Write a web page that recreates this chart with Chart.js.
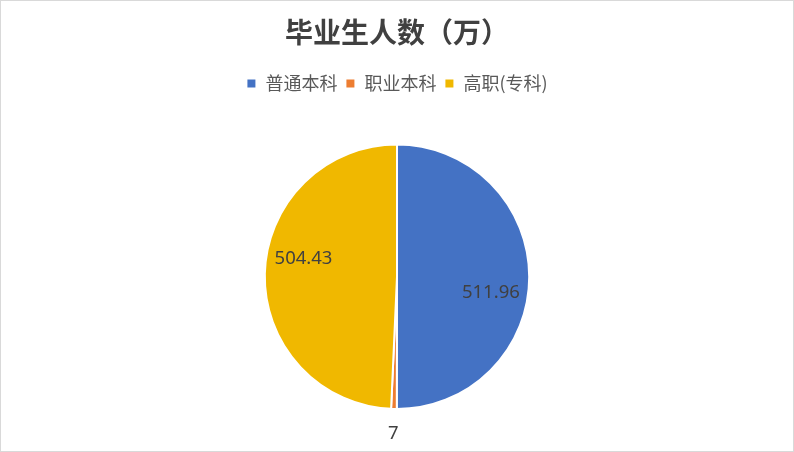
<!DOCTYPE html>
<html>
<head>
<meta charset="utf-8">
<script src="https://cdn.jsdelivr.net/npm/chart.js@4/dist/chart.umd.min.js"></script>
<style>
  html, body { margin: 0; padding: 0; background: #fff; }
  #wrap { width: 794px; height: 452px; box-sizing: border-box; border: 1px solid #D9D9D9; position: relative; }
</style>
</head>
<body>
<div id="wrap"><canvas id="myChart"></canvas></div>
<script>
const categories = ['普通本科', '职业本科', '高职(专科)'];
const graduates = [511.96, 7, 504.43];
const colors = ['#4472C4', '#ED7D31', '#F0B800'];

const FONT = '"Noto Sans CJK SC", "Noto Sans", sans-serif';

// extra room under the legend, before the pie starts
const legendGap = {
  id: 'legendGap',
  beforeInit(chart) {
    const fit = chart.legend.fit;
    chart.legend.fit = function () {
      fit.bind(chart.legend)();
      this.height += 41;
    };
  }
};

// value labels, inside the slice or just outside when the slice is thin
const sliceLabels = {
  id: 'sliceLabels',
  afterDatasetsDraw(chart) {
    const ctx = chart.ctx;
    const data = chart.data.datasets[0].data;
    const total = data.reduce((a, b) => a + b, 0);
    const meta = chart.getDatasetMeta(0);
    ctx.save();
    ctx.font = '18.5px "Noto Sans", sans-serif';
    ctx.fillStyle = '#404040';
    ctx.textAlign = 'center';
    ctx.textBaseline = 'middle';
    meta.data.forEach((arc, i) => {
      const p = arc.getProps(['x', 'y', 'startAngle', 'endAngle', 'outerRadius'], true);
      let mid = (p.startAngle + p.endAngle) / 2;
      let r;
      if (data[i] / total < 0.02) {
        r = p.outerRadius * 1.19;
      } else {
        r = p.outerRadius * 0.72;
        mid += 9.5 * Math.PI / 180;
      }
      ctx.fillText(String(data[i]), p.x + Math.cos(mid) * r, p.y + Math.sin(mid) * r);
    });
    ctx.restore();
  }
};

const ctx = document.getElementById('myChart');
const myChart = new Chart(ctx, {
  type: 'pie',
  data: {
    labels: categories,
    datasets: [{
      data: graduates,
      backgroundColor: colors,
      borderColor: '#ffffff',
      borderWidth: 2
    }]
  },
  options: {
    responsive: true,
    maintainAspectRatio: false,
    animation: false,
    events: [],
    layout: { padding: { bottom: 41 } },
    plugins: {
      title: {
        display: true,
        text: '毕业生人数（万）',
        color: '#404040',
        font: { family: FONT, size: 28, weight: 'bold' },
        padding: { top: 15, bottom: 17 }
      },
      legend: {
        display: true,
        position: 'top',
        labels: {
          color: '#595959',
          font: { family: FONT, size: 18 },
          boxWidth: 10,
          boxHeight: 10,
          padding: 8
        }
      },
      tooltip: { enabled: false }
    }
  },
  plugins: [legendGap, sliceLabels]
});
</script>
</body>
</html>
